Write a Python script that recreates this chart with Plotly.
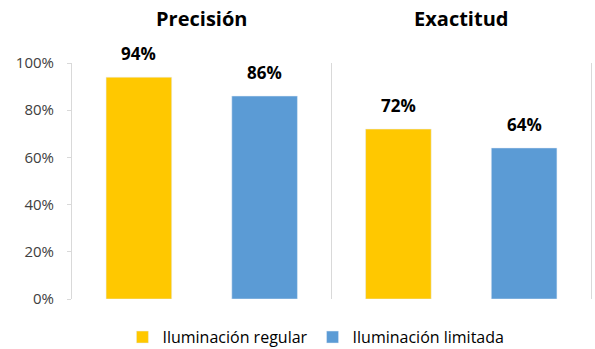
import plotly.graph_objects as go

categories = ["Precisión", "Exactitud"]
series_names = ["Iluminación regular", "Iluminación limitada"]
regular = [0.94, 0.72]
limitada = [0.86, 0.64]
colors = ["#FFC800", "#5B9BD5"]
y_ticks = [0, 0.2, 0.4, 0.6, 0.8, 1.0]

FONT = "Open Sans"

fig = go.Figure()
offsets = [-63, 63]
for name, vals, col, dx in zip(series_names, [regular, limitada], colors, offsets):
    fig.add_trace(go.Bar(
        x=categories, y=vals, name=name, marker_color=col,
    ))
    for cat, v in zip(categories, vals):
        fig.add_annotation(
            x=cat, y=v, xref="x", yref="y", xshift=dx, yshift=10,
            yanchor="bottom", showarrow=False, text=f"{v:.0%}",
            font=dict(family=FONT, size=17, color="#000000", weight="bold"),
        )

fig.update_layout(
    width=595, height=349,
    margin=dict(l=72, r=4, t=63, b=50, autoexpand=False),
    paper_bgcolor="white", plot_bgcolor="white",
    barmode="group", bargap=0.031, bargroupgap=0.478,
    font=dict(family=FONT, size=14, color="#404040"),
    showlegend=True,
    legend=dict(orientation="h", x=0.47, xanchor="center", yref="container",
                y=0.034, yanchor="middle",
                font=dict(family=FONT, size=16, color="#000000"),
                itemwidth=30, traceorder="normal"),
    xaxis=dict(side="top", tickson="boundaries", showgrid=True, gridcolor="#D9D9D9",
               gridwidth=1, ticks="", ticklabelstandoff=32, automargin=False,
               tickfont=dict(family=FONT, size=20, color="#000000", weight="bold"),
               showline=False, zeroline=False),
    yaxis=dict(range=[0, 1], tickvals=y_ticks, tickformat=".0%", showgrid=False,
               showline=True, mirror=True, linecolor="#D9D9D9", linewidth=1,
               ticks="outside", ticklen=4, tickcolor="#D9D9D9", zeroline=False,
               automargin=False, ticklabelstandoff=10,
               tickfont=dict(family=FONT, size=15, color="#404040")),
)

fig.write_html("out.html")
